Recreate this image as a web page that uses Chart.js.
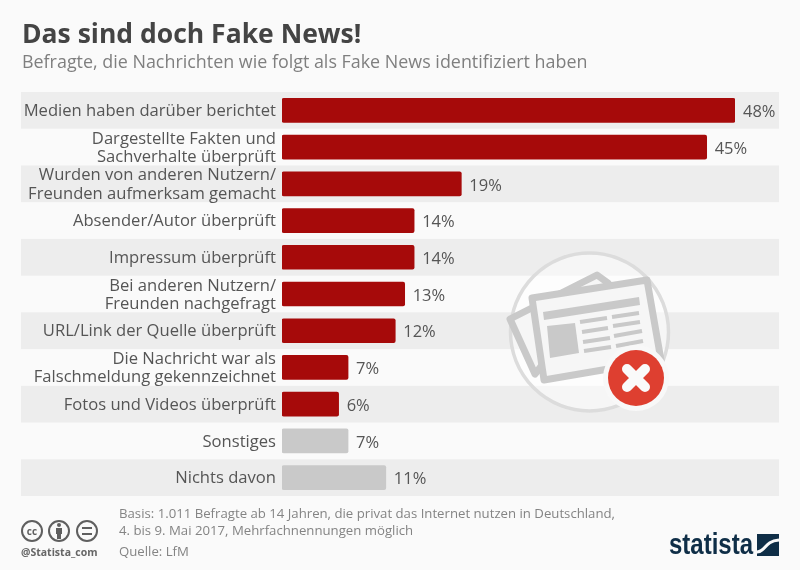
<!DOCTYPE html>
<html lang="de">
<head>
<meta charset="utf-8">
<title>Das sind doch Fake News!</title>
<script src="https://cdn.jsdelivr.net/npm/chart.js@4"></script>
<style>
  html, body { margin: 0; padding: 0; background: #fafafa; }
  body { width: 800px; height: 570px; position: relative; overflow: hidden; font-family: "Open Sans", sans-serif; }
  #chart-wrap { position: absolute; left: 0; top: 0; width: 800px; height: 570px; }
  .txt { position: absolute; white-space: nowrap; }
  #title { left: 22px; top: 15px; font-size: 26.5px; line-height: 36px; font-weight: 700; color: #444; }
  #subtitle { left: 22px; top: 48px; font-size: 17.9px; line-height: 26px; color: #7f7f7f; }
  #basis { left: 119px; top: 505px; font-size: 13.2px; line-height: 17px; color: #848484; }
  #source { left: 119px; top: 542px; font-size: 13.2px; line-height: 18px; color: #848484; }
  #handle { left: 21px; top: 545px; font-size: 10.5px; line-height: 14px; font-weight: 700; color: #666; }
  #brand { left: 669px; top: 526px; font-family: "Liberation Sans Narrow", "Liberation Sans", sans-serif; font-size: 30px; line-height: 36px; font-weight: 700; color: #0f2e47; transform: scaleX(0.8); transform-origin: left top; }
  svg { position: absolute; left: 0; top: 0; pointer-events: none; }
</style>
</head>
<body>
<div id="chart-wrap"><canvas id="bars"></canvas></div>

<!-- newspaper illustration + footer icons -->
<svg width="800" height="570" viewBox="0 0 800 570">
  <circle cx="589.5" cy="332" r="79" fill="#fff" fill-opacity="0.5" stroke="#dcdcdc" stroke-width="3.5"/>
  <path d="M510 319 L597 275 L608 283 L535 374 Z" fill="#f6f6f6" stroke="#c9c9c9" stroke-width="7" stroke-linejoin="round"/>
  <path d="M532 298 L647 280 L661 360 L544 380 Z" fill="#f6f6f6" stroke="#c9c9c9" stroke-width="7" stroke-linejoin="round"/>
  <path d="M543 312 L639 297 L640 305 L544 320 Z" fill="#c9c9c9"/>
  <path d="M547 326 L575 323 L579 353 L550 358 Z" fill="#c9c9c9"/>
  <g stroke="#c9c9c9" stroke-width="4">
    <path d="M580 322 L607 318"/><path d="M582 332 L608 328"/><path d="M583 342 L610 338"/><path d="M584 351 L611 347"/>
    <path d="M612 317 L639 313"/><path d="M613 326 L640 322"/><path d="M614 336 L642 331"/><path d="M616 346 L643 341"/>
  </g>
  <circle cx="636" cy="378" r="33" fill="#f8f8f8"/>
  <circle cx="636" cy="378" r="28" fill="#de3f30"/>
  <path d="M627 369 L645 387 M645 369 L627 387" stroke="#fafafa" stroke-width="10" stroke-linecap="round"/>

  <g fill="none" stroke="#5f5f5f" stroke-width="2">
    <circle cx="32" cy="531" r="10"/>
    <circle cx="59" cy="531" r="10"/>
    <circle cx="87" cy="531" r="10"/>
  </g>
  <text x="32" y="535" text-anchor="middle" font-family="Open Sans" font-size="10" font-weight="700" fill="#5f5f5f">cc</text>
  <circle cx="59" cy="525" r="2" fill="#5f5f5f"/>
  <path d="M56 528 H62 V534 H61 V539 H57 V534 H56 Z" fill="#5f5f5f"/>
  <path d="M82 528 H92 M82 534 H92" stroke="#5f5f5f" stroke-width="2"/>

  <rect x="757" y="534" width="22" height="22" fill="#0f2e47"/>
  <path d="M757 552 C766 552 764 541 779 540" fill="none" stroke="#fafafa" stroke-width="3"/>
</svg>

<div class="txt" id="title">Das sind doch Fake News!</div>
<div class="txt" id="subtitle">Befragte, die Nachrichten wie folgt als Fake News identifiziert haben</div>
<div class="txt" id="basis">Basis: 1.011 Befragte ab 14 Jahren, die privat das Internet nutzen in Deutschland,<br>4. bis 9. Mai 2017, Mehrfachnennungen möglich</div>
<div class="txt" id="source">Quelle: LfM</div>
<div class="txt" id="handle">@Statista_com</div>
<div class="txt" id="brand">statista</div>

<script>
const categories = [
  'Medien haben darüber berichtet',
  ['Dargestellte Fakten und', 'Sachverhalte überprüft'],
  ['Wurden von anderen Nutzern/', 'Freunden aufmerksam gemacht'],
  'Absender/Autor überprüft',
  'Impressum überprüft',
  ['Bei anderen Nutzern/', 'Freunden nachgefragt'],
  'URL/Link der Quelle überprüft',
  ['Die Nachricht war als', 'Falschmeldung gekennzeichnet'],
  'Fotos und Videos überprüft',
  'Sonstiges',
  'Nichts davon'
];
const shares = [48, 45, 19, 14, 14, 13, 12, 7, 6, 7, 11];
const barColors = ['#a60a0a', '#a60a0a', '#a60a0a', '#a60a0a', '#a60a0a', '#a60a0a', '#a60a0a', '#a60a0a', '#a60a0a', '#c9c9c9', '#c9c9c9'];

const TEXT_COLOR = '#555555';
const BAND_COLOR = '#ededed';
const BAND_LEFT = 21;
const BAND_RIGHT = 779;

// Grey stripes behind every other row, wider than the plot area.
const rowBands = {
  id: 'rowBands',
  beforeDraw(chart) {
    const { ctx, scales: { y } } = chart;
    const rowHeight = y.height / categories.length;
    ctx.save();
    ctx.fillStyle = BAND_COLOR;
    categories.forEach((_, i) => {
      if (i % 2 === 0) {
        ctx.fillRect(BAND_LEFT, y.getPixelForTick(i) - rowHeight / 2, BAND_RIGHT - BAND_LEFT, rowHeight);
      }
    });
    ctx.restore();
  }
};

// Percent labels just past the end of each bar.
const valueLabels = {
  id: 'valueLabels',
  afterDatasetsDraw(chart) {
    const { ctx } = chart;
    ctx.save();
    ctx.font = '16.5px "Open Sans"';
    ctx.fillStyle = TEXT_COLOR;
    ctx.textAlign = 'left';
    ctx.textBaseline = 'middle';
    chart.getDatasetMeta(0).data.forEach((bar, i) => {
      ctx.fillText(shares[i] + '%', bar.x + 8, bar.y + 2);
    });
    ctx.restore();
  }
};

new Chart(document.getElementById('bars'), {
  type: 'bar',
  data: {
    labels: categories,
    datasets: [
      {
        data: shares,
        backgroundColor: barColors,
        barThickness: 24,
        borderRadius: 2,
        borderSkipped: false
      }
    ]
  },
  options: {
    indexAxis: 'y',
    responsive: true,
    maintainAspectRatio: false,
    animation: false,
    layout: { padding: { top: 92, bottom: 74, right: 65, left: 0 } },
    plugins: { legend: { display: false }, tooltip: { enabled: false } },
    scales: {
      x: { display: false, min: 0, max: 48, grid: { display: false } },
      y: {
        afterFit(scale) { scale.width = 282; },
        grid: { display: false, drawTicks: false },
        border: { display: false },
        ticks: {
          color: TEXT_COLOR,
          padding: 6,
          autoSkip: false,
          labelOffset: 1,
          font: { family: '"Open Sans"', size: 16.6, lineHeight: 1.1 }
        }
      }
    }
  },
  plugins: [rowBands, valueLabels]
});
</script>
</body>
</html>
